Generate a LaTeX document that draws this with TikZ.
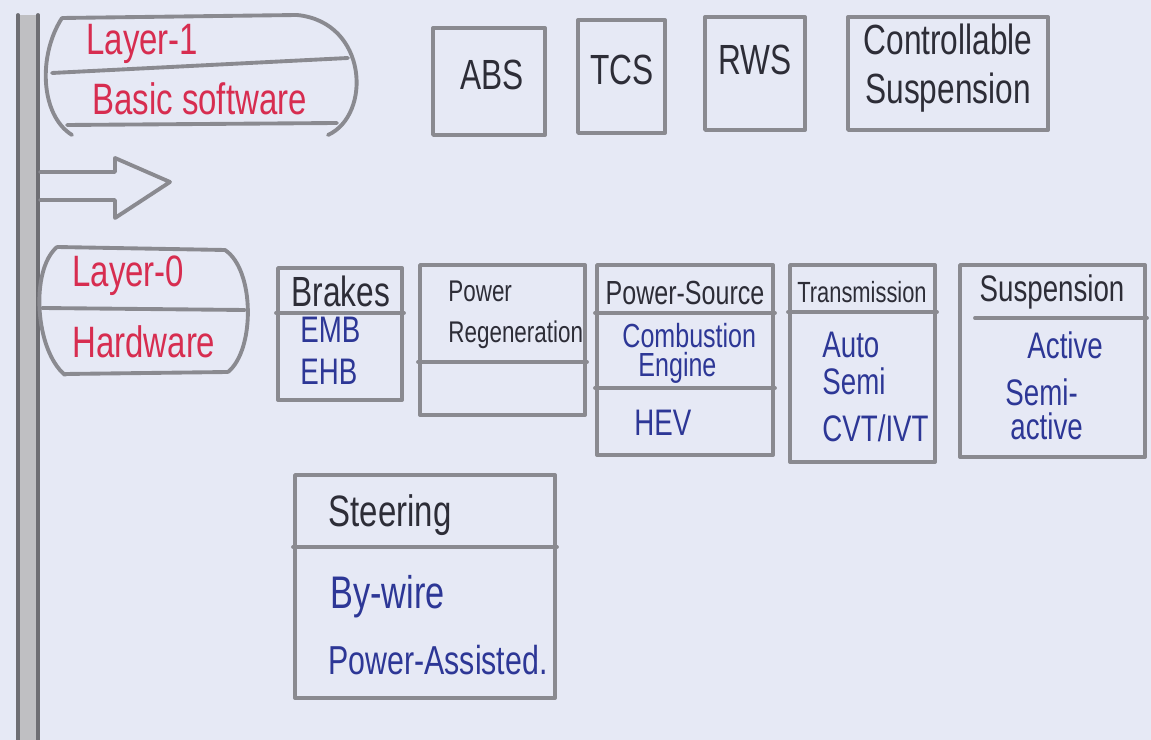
\documentclass[tikz,border=0pt]{standalone}
\usepackage{fontspec}
\newfontfamily\handfont{Liberation Sans}[FakeStretch=0.75]
\usetikzlibrary{fit}

\definecolor{paper}{RGB}{230,233,245}
\definecolor{pencil}{RGB}{138,138,144}
\definecolor{redpen}{RGB}{215,45,80}
\definecolor{bluepen}{RGB}{45,55,150}
\definecolor{blackpen}{RGB}{45,45,55}

\tikzset{
  line/.style={draw=pencil, line width=1.1pt, line join=round, line cap=round},
  box/.style={line, inner sep=0pt},
  layer/.style={text=redpen, anchor=west, font=\handfont\fontsize{12.5}{15}\selectfont},
  title/.style={text=blackpen, font=\handfont\fontsize{12}{14}\selectfont},
  entry/.style={text=bluepen, anchor=west, font=\handfont\fontsize{10.5}{12.5}\selectfont}
}

\begin{document}
\begin{tikzpicture}[x=0.01cm, y=-0.01cm]
\fill[paper] (0,0) rectangle (1151,740);
\useasboundingbox (0,0) rectangle (1151,740);
%layer bar
\fill[pencil!55] (18,15) rectangle (38,745);
\draw[line, draw=pencil!80!black] (18,15) -- (18,745) (38,15) -- (38,745);
%layer 1
\draw[line] (62,18) -- (297,15) .. controls (368,22) and (372,115) .. (328,135);
\draw[line] (62,18) .. controls (38,55) and (40,115) .. (72,135);
\draw[line] (52,73) -- (348,58);
\draw[line] (67,125) -- (337,123);
\node[layer] (l1) at (74,44) {Layer-1};
\node[layer] (l1sw) at (80,99) {Basic software};
%flow arrow
\draw[line] (40,172) -- (115,172) -- (115,158) -- (170,182)
  -- (115,218) -- (115,200) -- (40,200);
%software blocks
\node[box, fit={(433,28) (545,135)}] (abs) {};
\node[title] (abs-t) at (492,75) {ABS};
\node[box, fit={(578,20) (665,133)}] (tcs) {};
\node[title] (tcs-t) at (622,70) {TCS};
\node[box, fit={(705,17) (805,130)}] (rws) {};
\node[title] (rws-t) at (755,60) {RWS};
\node[box, fit={(848,17) (1048,130)}] (csusp) {};
\node[title, align=center] (csusp-t) at (948,68) {Controllable\\Suspension};
%layer 0
\draw[line] (57,247) -- (225,250) .. controls (255,270) and (255,350) .. (228,372);
\draw[line] (57,247) .. controls (30,270) and (35,350) .. (65,375);
\draw[line] (65,374) -- (228,372);
\draw[line] (42,308) -- (245,310);
\node[layer] (l0) at (60,276) {Layer-0};
\node[layer] (l0hw) at (60,342) {Hardware};
%hardware blocks
\node[box, fit={(278,268) (402,400)}] (brakes) {};
\draw[line] (brakes.west |- 0,313) -- (brakes.east |- 0,313);
\node[title] (brakes-t) at (341,291) {Brakes};
\node[entry] (emb) at (288,330) {EMB};
\node[entry] (ehb) at (288,372) {EHB};

\node[box, fit={(420,265) (585,415)}] (regen) {};
\draw[line] (regen.west |- 0,362) -- (regen.east |- 0,362);
\node[title, anchor=west, align=left, font=\handfont\fontsize{8.5}{11.5}\selectfont]
  (regen-t) at (436,315) {Power\\Regeneration};

\node[box, fit={(597,265) (773,455)}] (source) {};
\draw[line] (source.west |- 0,313) -- (source.east |- 0,313);
\draw[line] (source.west |- 0,388) -- (source.east |- 0,388);
\node[title, font=\handfont\fontsize{9.5}{11.5}\selectfont] (source-t) at (685,293) {Power-Source};
\node[entry, font=\handfont\fontsize{9.5}{11.5}\selectfont] (ice) at (610,336) {Combustion};
\node[entry, font=\handfont\fontsize{9.5}{11.5}\selectfont] (ice2) at (626,368) {Engine};
\node[entry] (hev) at (622,423) {HEV};

\node[box, fit={(790,265) (935,462)}] (trans) {};
\draw[line] (trans.west |- 0,312) -- (trans.east |- 0,312);
\node[title, font=\handfont\fontsize{8.3}{10}\selectfont] (trans-t) at (862,292) {Transmission};
\node[entry] (auto) at (810,345) {Auto};
\node[entry] (semi) at (810,381) {Semi};
\node[entry] (cvt) at (810,428) {CVT/IVT};

\node[box, fit={(960,265) (1145,457)}] (susp) {};
\draw[line] (975,318) -- (susp.east |- 0,318);
\node[title, font=\handfont\fontsize{10.5}{12.5}\selectfont] (susp-t) at (1052,292) {Suspension};
\node[entry] (active) at (1015,345) {Active};
\node[entry] (sact) at (993,392) {Semi-};
\node[entry] (sact2) at (998,426) {active};

\node[box, fit={(295,475) (555,698)}] (steer) {};
\draw[line] (steer.west |- 0,547) -- (steer.east |- 0,547);
\node[title, font=\handfont\fontsize{12.5}{15}\selectfont] (steer-t) at (390,515) {Steering};
\node[entry, font=\handfont\fontsize{13}{16}\selectfont] (wire) at (318,597) {By-wire};
\node[entry, font=\handfont\fontsize{11.5}{14}\selectfont] (assist) at (316,660) {Power-Assisted.};
\end{tikzpicture}
\end{document}
